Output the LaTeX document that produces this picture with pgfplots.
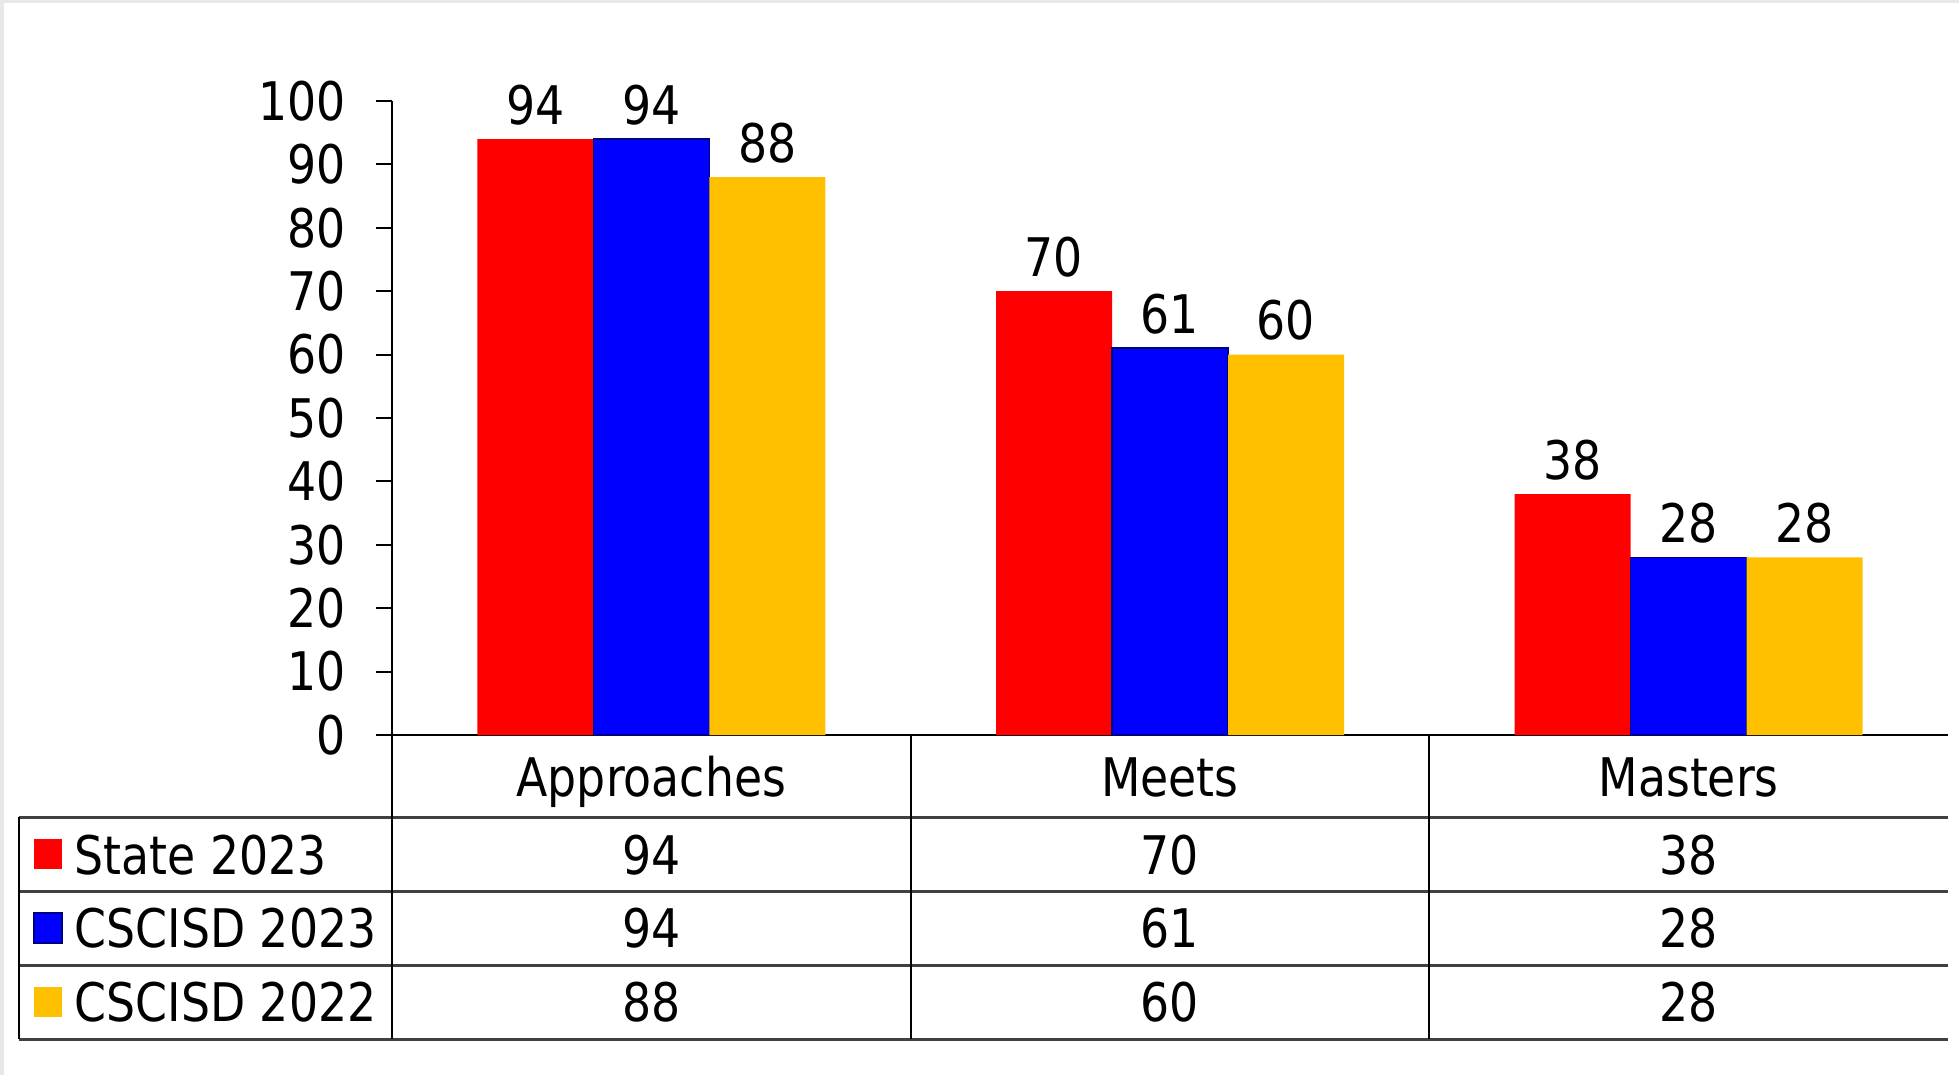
\documentclass[border=0pt]{standalone}
\usepackage{fontspec}
\setmainfont{DejaVu Sans}[FakeStretch=0.86]
\usepackage{pgfplots}
\pgfplotsset{compat=1.18}
\usepackage{pgfplotstable}

\definecolor{cred}{HTML}{FF0000}
\definecolor{cblue}{HTML}{0000FF}
\definecolor{cyel}{HTML}{FFC000}
\definecolor{gridgray}{HTML}{404040}

% x: 0 Approaches, 1 Meets, 2 Masters
\pgfplotstableread{
x state23 cscisd23 cscisd22
0 94 94 88
1 70 61 60
2 38 28 28
}\scores

\begin{document}
\begin{tikzpicture}[font=\fontsize{13.3}{15}\selectfont]
\useasboundingbox (-98pt,-85pt) rectangle (391.75pt,183.75pt);
\fill[black!9] (-98pt,183.75pt) rectangle (391.75pt,183pt);
\fill[black!9] (-98pt,-85pt) rectangle (-97pt,183.75pt);
\begin{axis}[
    at={(0,0)}, anchor=south west,
    scale only axis,
    width=389pt, height=158.5pt,
    xmin=-0.5, xmax=2.5,
    ymin=0, ymax=100,
    ytick={0,10,...,100},
    xtick=\empty,
    axis lines*=left,
    axis line style={black, line width=0.5pt},
    tick align=outside,
    major tick length=4pt,
    y tick style={black, line width=0.5pt},
    yticklabel style={/pgf/number format/assume math mode=true, font=\fontsize{13.3}{15}\selectfont, xshift=-4pt},
    ybar=0pt,
    bar width=29pt,
    clip=false,
    nodes near coords,
    every node near coord/.append style={font=\fontsize{13.3}{15}\selectfont, text=black, /pgf/number format/assume math mode=true},
]
\addplot[fill=cred, draw=none] table[x=x, y=state23] {\scores};
\addplot[fill=cblue, draw=blue!50!black, line width=0.4pt] table[x=x, y=cscisd23] {\scores};
\addplot[fill=cyel, draw=none] table[x=x, y=cscisd22] {\scores};
\end{axis}

% data table below the axis
\def\cw{129.667pt}
\foreach \y in {-20.6pt,-39pt,-57.5pt,-76pt}
  \draw[gridgray, line width=0.75pt] (-93.25pt,\y) -- (389pt,\y);
\draw[black, line width=0.5pt] (-93.25pt,-20.6pt) -- (-93.25pt,-76pt);
\foreach \x in {0pt,129.667pt,259.333pt}
  \draw[black, line width=0.5pt] (\x,0) -- (\x,-76pt);

\node[anchor=base] at (64.83pt,-15.25pt) {Approaches};
\node[anchor=base] at (194.5pt,-15.25pt) {Meets};
\node[anchor=base] at (324.17pt,-15.25pt) {Masters};

\fill[cred] (-89.5pt,-33.6pt) rectangle (-82.5pt,-26.1pt);
\fill[cblue] (-89.5pt,-52pt) rectangle (-82.5pt,-44.5pt);
\draw[blue!50!black, line width=0.3pt] (-89.5pt,-52pt) rectangle (-82.5pt,-44.5pt);
\fill[cyel] (-89.5pt,-70.5pt) rectangle (-82.5pt,-63pt);
\node[anchor=base west, inner sep=0pt] at (-79.5pt,-34.75pt) {State 2023};
\node[anchor=base west, inner sep=0pt] at (-79.5pt,-53.1pt) {CSCISD 2023};
\node[anchor=base west, inner sep=0pt] at (-79.5pt,-71.5pt) {CSCISD 2022};

\foreach \v [count=\i from 0] in {94,70,38}
  \node[anchor=base] at (64.83pt+\i*\cw,-34.75pt) {\v};
\foreach \v [count=\i from 0] in {94,61,28}
  \node[anchor=base] at (64.83pt+\i*\cw,-53.1pt) {\v};
\foreach \v [count=\i from 0] in {88,60,28}
  \node[anchor=base] at (64.83pt+\i*\cw,-71.5pt) {\v};
\end{tikzpicture}
\end{document}
